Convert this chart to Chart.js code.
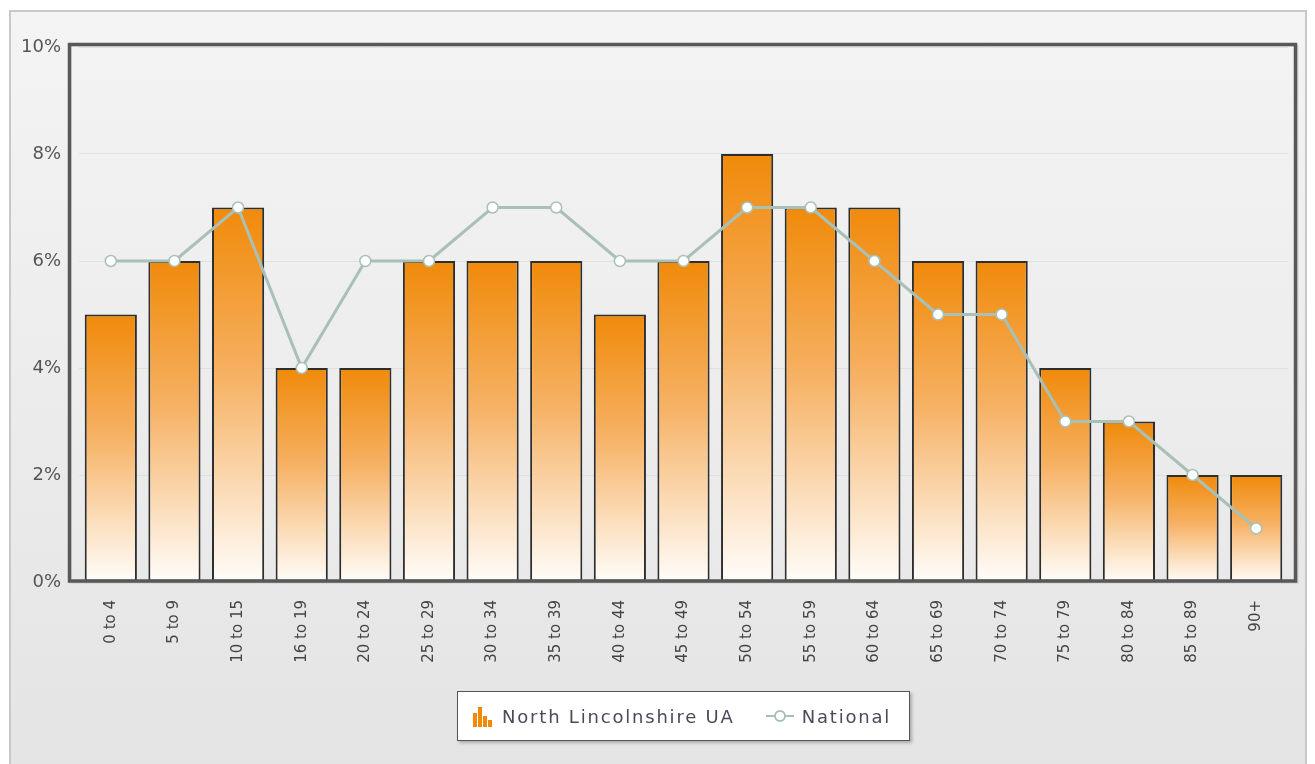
<!DOCTYPE html>
<html>
<head>
<meta charset="utf-8">
<script src="https://cdn.jsdelivr.net/npm/chart.js@4.4.1/dist/chart.umd.min.js"></script>
<style>
    html, body { margin: 0; padding: 0; background: #fff; }
    #wrap { position: relative; width: 1315px; height: 764px; }
    #chart { position: absolute; left: 0; top: 0; }
    #legend {
        position: absolute; left: 457px; top: 691px; width: 453px; height: 50px;
        background: #fff; border: 1px solid #555; box-shadow: 2px 2px 3px rgba(0,0,0,0.25);
        font-family: "DejaVu Sans", Verdana, sans-serif; font-size: 18px; letter-spacing: 1.8px; color: #4a4a5a;
        display: flex; align-items: center; box-sizing: border-box;
    }
    #legend span { display: inline-flex; align-items: center; }
    #legend canvas { margin-right: 7px; }
</style>
</head>
<body>
<div id="wrap">
    <canvas id="chart" width="1315" height="764"></canvas>
    <div id="legend">
        <span style="margin-left: 13px;"><canvas id="iconBar" width="24" height="24"></canvas>North Lincolnshire UA</span>
        <span style="margin-left: 30px;"><canvas id="iconLine" width="30" height="24"></canvas>National</span>
    </div>
</div>
<script>
const ageBands = ['0 to 4', '5 to 9', '10 to 15', '16 to 19', '20 to 24', '25 to 29', '30 to 34', '35 to 39',
    '40 to 44', '45 to 49', '50 to 54', '55 to 59', '60 to 64', '65 to 69', '70 to 74', '75 to 79',
    '80 to 84', '85 to 89', '90+'];
const localShare = [5, 6, 7, 4, 4, 6, 6, 6, 5, 6, 8, 7, 7, 6, 6, 4, 3, 2, 2];
const nationalShare = [6, 6, 7, 4, 6, 6, 7, 7, 6, 6, 7, 7, 6, 5, 5, 3, 3, 2, 1];
const yTicks = [0, 2, 4, 6, 8, 10];

const orange = '#f08a0a';
const lineColor = '#a9c0b7';
const font = "'DejaVu Sans', Verdana, sans-serif";

function barGradient(context) {
    const chart = context.chart;
    const yScale = chart.scales.y;
    if (!chart.chartArea || !yScale || context.parsed === undefined) {
        return orange;
    }
    const top = yScale.getPixelForValue(context.parsed.y);
    const bottom = yScale.getPixelForValue(0);
    if (!isFinite(top) || !isFinite(bottom) || top === bottom) {
        return orange;
    }
    const g = chart.ctx.createLinearGradient(0, top, 0, bottom);
    g.addColorStop(0, '#f08a0a');
    g.addColorStop(0.45, '#f6b163');
    g.addColorStop(1, '#fffdfa');
    return g;
}

// canvas letter spacing per axis, the original labels are spaced out
function spaceLabels(scale, spacing) {
    if (!scale || scale._spaced) {
        return;
    }
    const draw = scale.draw.bind(scale);
    scale.draw = function (area) {
        const prev = this.ctx.letterSpacing;
        this.ctx.letterSpacing = spacing;
        draw(area);
        this.ctx.letterSpacing = prev;
    };
    scale._spaced = true;
}

const frame = {
    id: 'frame',
    afterLayout(chart) {
        spaceLabels(chart.scales.x, '0.5px');
        spaceLabels(chart.scales.y, '2px');
    },
    beforeDraw(chart) {
        const ctx = chart.ctx;
        const a = chart.chartArea;
        ctx.save();
        // outer panel
        const pg = ctx.createLinearGradient(0, 10, 0, 764);
        pg.addColorStop(0, '#f4f4f4');
        pg.addColorStop(1, '#e4e4e4');
        ctx.fillStyle = pg;
        ctx.fillRect(10, 11, 1296, 760);
        ctx.strokeStyle = '#c8c8c8';
        ctx.lineWidth = 2;
        ctx.strokeRect(10, 11, 1296, 760);
        // plot background
        const bg = ctx.createLinearGradient(0, a.top, 0, a.bottom);
        bg.addColorStop(0, '#f3f3f3');
        bg.addColorStop(1, '#e9e9e9');
        ctx.fillStyle = bg;
        ctx.fillRect(a.left - 9, a.top - 2, a.width + 17, a.height + 2);
        ctx.restore();
    },
    afterDraw(chart) {
        const ctx = chart.ctx;
        const a = chart.chartArea;
        ctx.save();
        ctx.strokeStyle = 'rgba(0,0,0,0.12)';
        ctx.lineWidth = 2;
        ctx.strokeRect(a.left - 8.5, a.top - 1.5, a.width + 18, a.height + 2);
        ctx.strokeStyle = '#585858';
        ctx.lineWidth = 3.5;
        ctx.strokeRect(a.left - 9.5, a.top - 2.5, a.width + 17, a.height + 1.5);
        ctx.restore();
    }
};

new Chart(document.getElementById('chart').getContext('2d'), {
    data: {
        labels: ageBands,
        datasets: [{
            type: 'line',
            label: 'National',
            data: nationalShare,
            borderColor: lineColor,
            borderWidth: 3,
            tension: 0,
            pointRadius: 5.5,
            pointBorderWidth: 1.5,
            pointBackgroundColor: '#ffffff',
            pointBorderColor: lineColor,
            order: 0
        }, {
            type: 'bar',
            label: 'North Lincolnshire UA',
            data: localShare,
            backgroundColor: barGradient,
            borderColor: '#2e2e2e',
            borderWidth: 2,
            borderSkipped: false,
            categoryPercentage: 1,
            barPercentage: 0.82,
            order: 1
        }]
    },
    options: {
        responsive: false,
        animation: false,
        layout: { padding: { left: 10, top: 47, right: 27, bottom: 82 } },
        plugins: { legend: { display: false }, tooltip: { enabled: false } },
        scales: {
            x: {
                grid: { display: false },
                border: { display: false },
                ticks: {
                    minRotation: 90, maxRotation: 90, padding: 10,
                    color: '#444', font: { family: font, size: 15 }
                },
                afterFit(scale) { scale.height = 100; }
            },
            y: {
                min: 0, max: 10,
                afterBuildTicks(scale) { scale.ticks = yTicks.map(v => ({ value: v })); },
                grid: { color: '#e0e0e0', drawTicks: false },
                border: { display: false },
                ticks: {
                    padding: 18,
                    color: '#555', font: { family: font, size: 18 },
                    callback: v => v + '%'
                },
                afterFit(scale) { scale.width = 69; }
            }
        }
    },
    plugins: [frame]
});

// legend icons
(function () {
    const b = document.getElementById('iconBar').getContext('2d');
    b.fillStyle = orange;
    b.fillRect(2, 9, 4, 14);
    b.fillRect(7, 3, 4, 20);
    b.fillRect(12, 12, 4, 11);
    b.fillRect(17, 16, 4, 7);
    const l = document.getElementById('iconLine').getContext('2d');
    l.strokeStyle = lineColor;
    l.lineWidth = 2;
    l.beginPath();
    l.moveTo(1, 12); l.lineTo(29, 12);
    l.stroke();
    l.fillStyle = '#fff';
    l.beginPath();
    l.arc(15, 12, 5, 0, Math.PI * 2);
    l.fill();
    l.stroke();
})();
</script>
</body>
</html>
